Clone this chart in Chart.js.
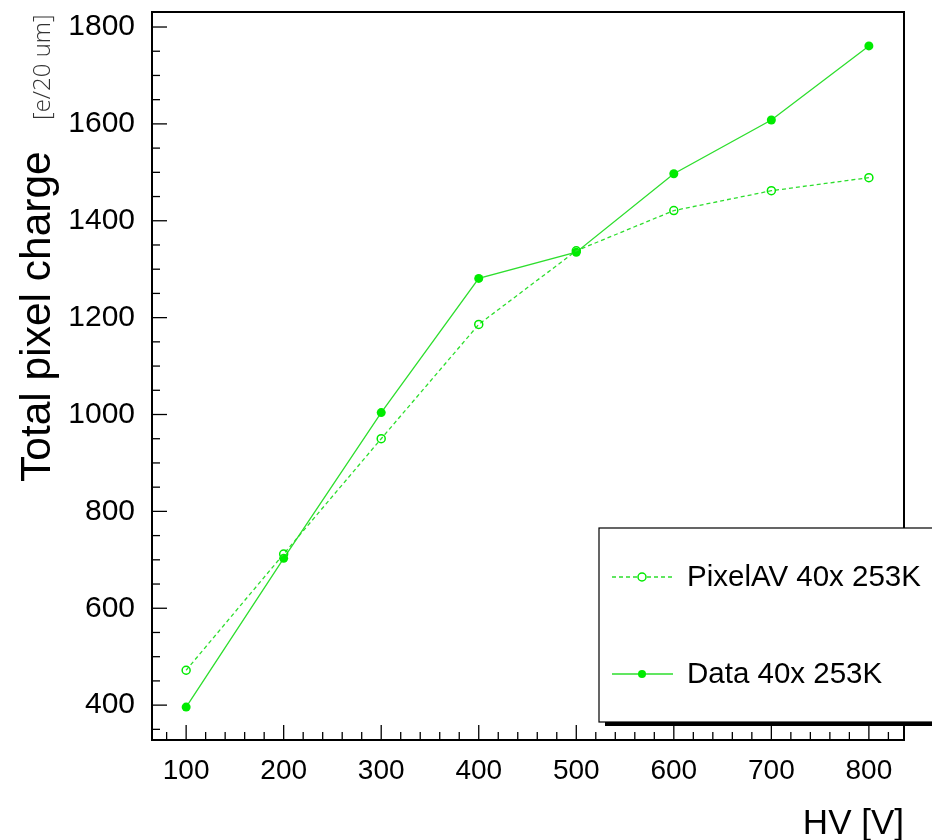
<!DOCTYPE html>
<html>
<head>
<meta charset="utf-8">
<script src="https://cdn.jsdelivr.net/npm/chart.js@4.4.1/dist/chart.umd.min.js"></script>
<style>
  html, body { margin: 0; padding: 0; background: #fff; }
  canvas { display: block; }
</style>
</head>
<body>
<canvas id="graficoCarga" width="932" height="840"></canvas>
<script>
// --- Dados ---
const tensaoHV = [100, 200, 300, 400, 500, 600, 700, 800];
const cargaPixelAV = [472, 712, 950, 1186, 1338, 1421, 1462, 1489];
const cargaDados = [396, 703, 1004, 1281, 1335, 1497, 1608, 1761];
const ticksX = [100, 200, 300, 400, 500, 600, 700, 800];
const ticksY = [400, 600, 800, 1000, 1200, 1400, 1600, 1800];
const nomesSeries = ['PixelAV 40x 253K', 'Data 40x 253K'];

const corLinha = 'rgb(45, 222, 45)';
const corPonto = 'rgb(0, 235, 0)';
const fonteBase = '"Liberation Sans", Arial, sans-serif';

// --- Plugin: moldura, ticks internos (estilo ROOT), títulos e legenda ---
const pluginEstiloRoot = {
    id: 'estiloRoot',
    afterDatasetsDraw(chart) {
        const ctx = chart.ctx;
        const area = chart.chartArea;
        const escalaX = chart.scales.x;
        const escalaY = chart.scales.y;

        ctx.save();
        ctx.strokeStyle = '#000';

        // ticks do eixo X (principais a cada 100, menores a cada 20)
        ctx.lineWidth = 1.3;
        for (let v = 80; v <= 820; v += 20) {
            const px = escalaX.getPixelForValue(v);
            const comp = (v % 100 === 0) ? 15 : 8;
            ctx.beginPath();
            ctx.moveTo(px, area.bottom);
            ctx.lineTo(px, area.bottom - comp);
            ctx.stroke();
        }
        // ticks do eixo Y (principais a cada 200, menores a cada 50)
        for (let v = 350; v <= 1800; v += 50) {
            const py = escalaY.getPixelForValue(v);
            const comp = (v % 200 === 0) ? 15 : 8;
            ctx.beginPath();
            ctx.moveTo(area.left, py);
            ctx.lineTo(area.left + comp, py);
            ctx.stroke();
        }

        // moldura
        ctx.lineWidth = 2;
        ctx.strokeRect(area.left, area.top, area.right - area.left, area.bottom - area.top);

        // legenda com sombra
        const caixa = { x: 599, y: 528, w: 360, h: 194 };
        ctx.fillStyle = '#000';
        ctx.fillRect(caixa.x + 6, caixa.y + caixa.h, caixa.w, 4);
        ctx.fillStyle = '#fff';
        ctx.fillRect(caixa.x, caixa.y, caixa.w, caixa.h);
        ctx.lineWidth = 1.2;
        ctx.strokeRect(caixa.x, caixa.y, caixa.w, caixa.h);

        const linhasLegenda = [577, 674];
        linhasLegenda.forEach((ly, i) => {
            ctx.strokeStyle = corLinha;
            ctx.lineWidth = 1.3;
            ctx.setLineDash(i === 0 ? [4, 3] : []);
            ctx.beginPath();
            ctx.moveTo(612, ly);
            ctx.lineTo(673, ly);
            ctx.stroke();
            ctx.setLineDash([]);
            ctx.beginPath();
            ctx.arc(642, ly, 4, 0, Math.PI * 2);
            if (i === 0) {
                ctx.fillStyle = '#fff';
                ctx.fill();
                ctx.strokeStyle = corPonto;
                ctx.lineWidth = 1.5;
                ctx.stroke();
            } else {
                ctx.fillStyle = corPonto;
                ctx.fill();
            }
            ctx.fillStyle = '#000';
            ctx.font = '29.5px ' + fonteBase;
            ctx.textAlign = 'left';
            ctx.textBaseline = 'middle';
            ctx.fillText(nomesSeries[i], 687, ly + 1);
        });

        // título do eixo X
        ctx.fillStyle = '#000';
        ctx.font = '35px ' + fonteBase;
        ctx.textAlign = 'right';
        ctx.textBaseline = 'alphabetic';
        ctx.fillText('HV [V]', 904, 834);

        // título do eixo Y (texto girado)
        ctx.save();
        ctx.translate(50, 482);
        ctx.rotate(-Math.PI / 2);
        ctx.textAlign = 'left';
        ctx.font = '42.5px ' + fonteBase;
        ctx.fillText('Total pixel charge', 0, 0);
        ctx.restore();

        ctx.save();
        ctx.translate(50, 120);
        ctx.rotate(-Math.PI / 2);
        ctx.textAlign = 'left';
        ctx.fillStyle = '#333';
        ctx.font = '300 24px "Open Sans", sans-serif';
        ctx.fillText('[e/20 um]', 0, 0);
        ctx.restore();

        ctx.restore();
    }
};

const canvasGrafico = document.getElementById('graficoCarga');

new Chart(canvasGrafico, {
    type: 'line',
    data: {
        datasets: [
            {
                label: nomesSeries[0],
                data: tensaoHV.map((v, i) => ({ x: v, y: cargaPixelAV[i] })),
                borderColor: corLinha,
                borderWidth: 1.3,
                borderDash: [4, 3],
                pointStyle: 'circle',
                pointRadius: 4,
                pointBorderWidth: 1.5,
                pointBorderColor: corPonto,
                pointBackgroundColor: 'rgba(0,0,0,0)'
            },
            {
                label: nomesSeries[1],
                data: tensaoHV.map((v, i) => ({ x: v, y: cargaDados[i] })),
                borderColor: corLinha,
                borderWidth: 1.3,
                pointStyle: 'circle',
                pointRadius: 4.5,
                pointBorderWidth: 0,
                pointBackgroundColor: corPonto
            }
        ]
    },
    options: {
        responsive: false,
        animation: false,
        layout: { padding: { top: 12, right: 28, left: 0, bottom: 0 } },
        plugins: {
            legend: { display: false },
            tooltip: { enabled: false }
        },
        scales: {
            x: {
                type: 'linear',
                min: 65,
                max: 836,
                grid: { display: false, drawTicks: false },
                border: { display: false },
                afterBuildTicks: (escala) => { escala.ticks = ticksX.map(v => ({ value: v })); },
                afterFit: (escala) => {
                    escala.height = 100;
                    escala.paddingLeft = 0;
                    escala.paddingRight = 0;
                },
                ticks: {
                    color: '#000',
                    padding: 14,
                    maxRotation: 0,
                    callback: (valor) => String(valor),
                    font: { family: fonteBase, size: 28 }
                }
            },
            y: {
                type: 'linear',
                min: 328,
                max: 1831,
                grid: { display: false, drawTicks: false },
                border: { display: false },
                afterBuildTicks: (escala) => { escala.ticks = ticksY.map(v => ({ value: v })); },
                afterFit: (escala) => {
                    escala.width = 152;
                    escala.paddingTop = 0;
                    escala.paddingBottom = 0;
                },
                ticks: {
                    color: '#000',
                    padding: 17,
                    callback: (valor) => String(valor),
                    font: { family: fonteBase, size: 30 }
                }
            }
        }
    },
    plugins: [pluginEstiloRoot]
});
</script>
</body>
</html>
